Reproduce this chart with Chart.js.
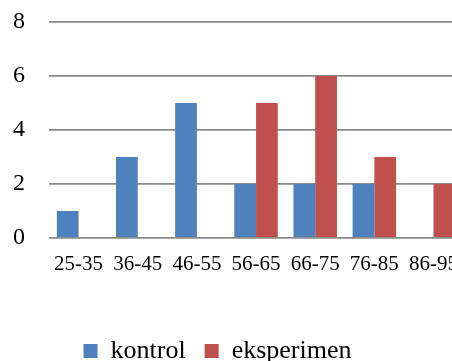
<!DOCTYPE html>
<html>
<head>
<meta charset="utf-8">
<script src="https://cdn.jsdelivr.net/npm/chart.js@4/dist/chart.umd.min.js"></script>
<style>
  html, body { margin: 0; padding: 0; background: #ffffff; overflow: hidden; width: 452px; height: 361px; }
  #wrap { position: absolute; left: 0; top: 0; width: 472px; height: 374px; }
</style>
</head>
<body>
<div id="wrap"><canvas id="c" width="472" height="374"></canvas></div>
<script>
const categories = ["25-35", "36-45", "46-55", "56-65", "66-75", "76-85", "86-95"];
const kontrol = [1, 3, 5, 2, 2, 2, 0];
const eksperimen = [0, 0, 0, 5, 6, 3, 2];
const yTicks = [0, 2, 4, 6, 8];

const legendShift = {
  id: 'legendShift',
  afterLayout(chart) {
    if (chart.legend) {
      chart.legend.left -= 25;
      chart.legend.right -= 25;
    }
  }
};

new Chart(document.getElementById('c'), {
  type: 'bar',
  data: {
    labels: categories,
    datasets: [
      { label: 'kontrol', data: kontrol, backgroundColor: '#4F81BD', borderWidth: 0 },
      { label: 'eksperimen', data: eksperimen, backgroundColor: '#C0504D', borderWidth: 0 }
    ]
  },
  options: {
    responsive: false,
    animation: false,
    events: [],
    layout: { padding: { top: 22, right: 0, bottom: 0, left: 13 } },
    datasets: { bar: { categoryPercentage: 0.735, barPercentage: 1.0 } },
    scales: {
      x: {
        grid: { display: false, drawTicks: false },
        border: { display: false },
        ticks: {
          color: '#000000',
          font: { family: 'Liberation Serif', size: 21 },
          maxRotation: 0,
          autoSkip: false,
          padding: 14
        },
        afterFit(scale) { scale.height = 81; }
      },
      y: {
        min: 0,
        max: 8,
        afterBuildTicks(scale) { scale.ticks = yTicks.map(v => ({ value: v })); },
        grid: { color: '#8a8a8a', lineWidth: 1.8, drawTicks: false },
        border: { display: false },
        ticks: {
          color: '#000000',
          font: { family: 'Liberation Serif', size: 24 },
          padding: 0,
          crossAlign: 'far'
        },
        afterFit(scale) { scale.width = 36; }
      }
    },
    plugins: {
      legend: {
        display: true,
        position: 'bottom',
        labels: {
          color: '#000000',
          font: { family: 'Liberation Serif', size: 26 },
          boxWidth: 14,
          boxHeight: 14,
          padding: 19
        }
      },
      tooltip: { enabled: false },
      title: { display: false }
    }
  },
  plugins: [legendShift]
});
</script>
</body>
</html>
